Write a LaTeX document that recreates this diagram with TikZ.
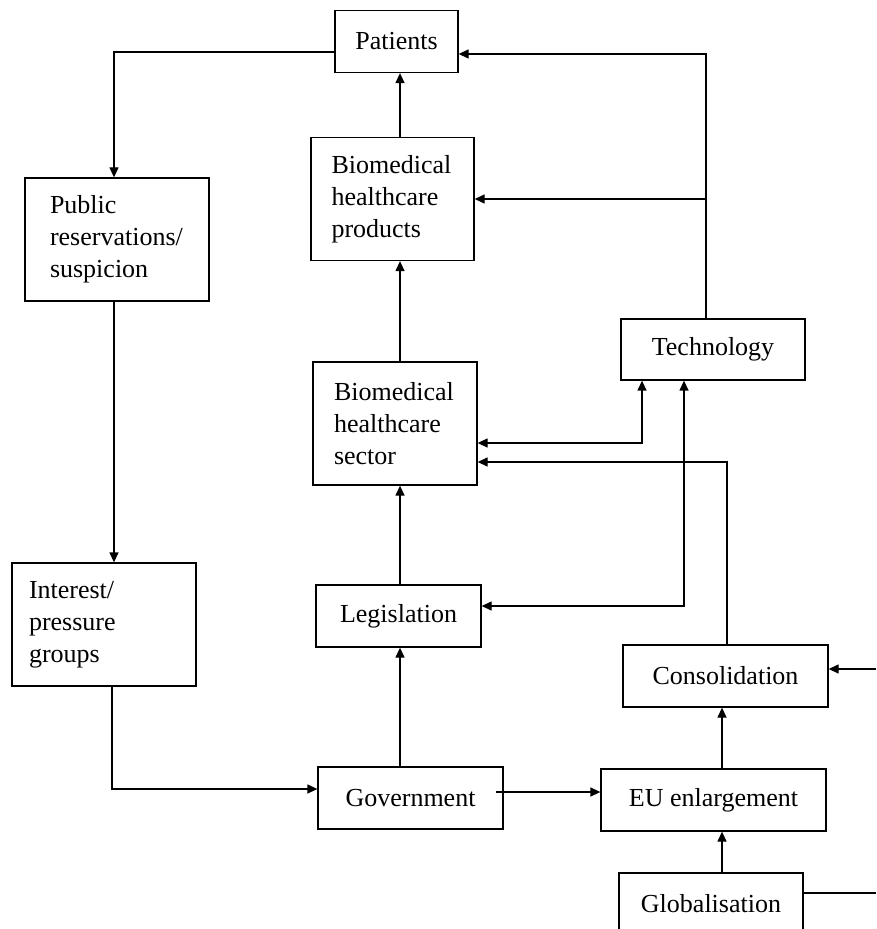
\documentclass[tikz,border=0pt]{standalone}
\usepackage{fontspec}
\setmainfont{Liberation Serif}
\usetikzlibrary{arrows.meta,calc}

\begin{document}
\begin{tikzpicture}[x=0.5pt,y=-0.5pt,
  >={Triangle[length=5pt,width=4.5pt]},
  line/.style={line width=0.65pt},
  box/.style={draw,line width=0.65pt,inner sep=0pt,font=\fontsize{13}{16}\selectfont},
  tbox/.style={box,align=left,minimum height=61.5pt},
  arr/.style={line,->},
  dbl/.style={line,<->}]

\useasboundingbox (0,0) rectangle (876,929);

% --- Boxes ---
\node[box,minimum width=61.5pt,minimum height=31pt] (pat) at (396.5,41.5) {Patients};
\node[tbox,text width=61pt,inner xsep=10.25pt] (prod) at (392.5,199) {Biomedical\\healthcare\\products};
\node[tbox,text width=67pt,inner xsep=12.5pt] (pub) at (117,239.5) {Public\\reservations/\\suspicion};
\node[box,minimum width=92pt,minimum height=30.5pt] (tech) at (713,349.5) {Technology};
\node[tbox,text width=61pt,inner xsep=10.5pt] (sec) at (395,423.5) {Biomedical\\healthcare\\sector};
\node[tbox,text width=75pt,inner xsep=8.5pt] (int) at (104,624.5) {Interest/\\pressure\\groups};
\node[box,minimum width=82.5pt,minimum height=31pt] (leg) at (398.5,616) {Legislation};
\node[box,minimum width=102.5pt,minimum height=31pt] (con) at (725.5,676) {Consolidation};
\node[box,minimum width=92.5pt,minimum height=31pt] (gov) at (410.5,798) {Government};
\node[box,minimum width=112.5pt,minimum height=31pt] (eu) at (713.5,800) {EU enlargement};
\node[box,minimum width=92pt,minimum height=31pt] (glob) at (711,904) {Globalisation};

% --- Left loop ---
\draw[arr] ($(pat.west)+(0,10.5)$) -| ($(pub.north)+(-3,0)$);
\draw[arr] ($(pub.south)+(-3,0)$) -- ($(int.north)+(10,0)$);
\draw[arr] ($(int.south)+(8,0)$) |- ($(gov.west)+(0,-9)$);

% --- Centre column ---
\draw[arr] ($(gov.north)+(-10.5,0)$) -- ($(leg.south)+(1.5,0)$);
\draw[arr] ($(leg.north)+(1.5,0)$) -- ($(sec.south)+(5,0)$);
\draw[arr] ($(sec.north)+(5,0)$) -- ($(prod.south)+(7.5,0)$);
\draw[arr] ($(prod.north)+(7.5,0)$) -- ($(pat.south)+(3.5,0)$);

% --- Technology links ---
\coordinate (tup) at ($(tech.north)+(-7,0)$);
\draw[arr] (tup) |- ($(pat.east)+(0,12.5)$);
\draw[arr] (tup |- prod.east) -- (prod.east);
\draw[dbl] ($(sec.east)+(0,19.5)$) -| ($(tech.south)+(-71,0)$);
\draw[dbl] ($(leg.east)+(0,-10)$) -| ($(tech.south)+(-29,0)$);

% --- Consolidation and enlargement ---
\draw[arr] ($(con.north)+(1.5,0)$) |- ($(sec.east)+(0,38.5)$);
\draw[arr] ($(eu.north)+(8.5,0)$) -- ($(con.south)+(-3.5,0)$);
\draw[arr] ($(gov.east)+(-8,-6)$) -- ($(eu.west)+(0,-8)$);
\draw[arr] ($(glob.north)+(11,0)$) -- ($(eu.south)+(8.5,0)$);

% links cut off at the right edge
\coordinate (cin) at (876,669);
\coordinate (gout) at (876,893);
\draw[arr] (cin) -- (cin -| con.east);
\draw[line] (gout -| glob.east) -- (gout);

\end{tikzpicture}
\end{document}
